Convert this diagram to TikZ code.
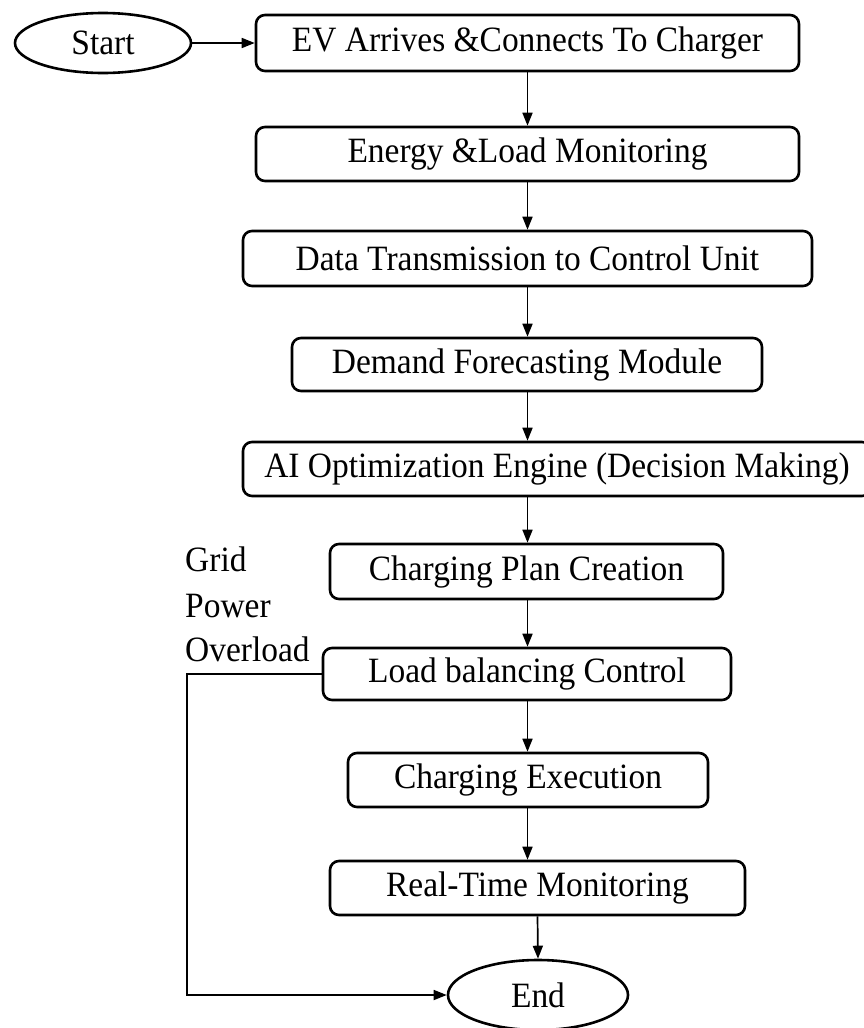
\documentclass[tikz,border=0pt]{standalone}
\usepackage{fontspec}
\setmainfont{Liberation Serif}[FakeStretch=0.94]
\usetikzlibrary{shapes.geometric,arrows.meta}
\begin{document}
\begin{tikzpicture}[x=1pt,y=-1pt,
  txt/.style={font=\fontsize{35.6}{42}\selectfont},
  box/.style={txt, draw, line width=2.6pt, rounded corners=9pt, inner sep=0pt},
  oval/.style={txt, draw, ellipse, line width=2.6pt, inner sep=0pt},
  arr/.style={line width=1.7pt, -{Triangle[length=13pt,width=10pt]}},
  lbl/.style={txt, inner sep=0pt, anchor=base west}]
\useasboundingbox (0,0) rectangle (863,1028);
\fill[white] (0,0) rectangle (863,1028);

\node[oval, minimum width=176pt, minimum height=60pt] (start) at (103,43) {Start};
\node[box, minimum width=543pt, minimum height=56pt] (b1) at (527.5,43) {EV Arrives \&Connects To Charger};
\node[box, minimum width=543pt, minimum height=54pt] (b2) at (527.5,154) {Energy \&Load Monitoring};
\node[box, minimum width=569pt, minimum height=55pt] (b3) at (527.5,258.5) {Data Transmission to Control Unit};
\node[box, minimum width=470pt, minimum height=53pt] (b4) at (527,364.5) {Demand Forecasting Module};
\node[box, minimum width=628pt, minimum height=54pt] (b5) at (557,469) {AI Optimization Engine (Decision Making)};
\node[box, minimum width=393pt, minimum height=55pt] (b6) at (526.5,571.5) {Charging Plan Creation};
\node[box, minimum width=408pt, minimum height=52pt] (b7) at (527,674) {Load balancing Control};
\node[box, minimum width=360pt, minimum height=54pt] (b8) at (528,780) {Charging Execution};
\node[box, minimum width=415pt, minimum height=54pt] (b9) at (537.5,888) {Real-Time Monitoring};
\node[oval, minimum width=180pt, minimum height=70pt] (end) at (538,995) {End};

\node[lbl] (g1) at (185,571) {Grid};
\node[lbl] (g2) at (185,617) {Power};
\node[lbl] (g3) at (185,661) {Overload};

\coordinate (ax) at (527.5,0);
\coordinate (lx) at (187,0);

\draw[arr] (start.east) -- (b1.west);
\draw[arr] (b1.south -| ax) -- (b2.north -| ax);
\draw[arr] (b2.south -| ax) -- (b3.north -| ax);
\draw[arr] (b3.south -| ax) -- (b4.north -| ax);
\draw[arr] (b4.south -| ax) -- (b5.north -| ax);
\draw[arr] (b5.south -| ax) -- (b6.north -| ax);
\draw[arr] (b6.south -| ax) -- (b7.north -| ax);
\draw[arr] (b7.south -| ax) -- (b8.north -| ax);
\draw[arr] (b8.south -| ax) -- (b9.north -| ax);
\draw[arr] (b9.south) -- (end.north);
\draw[arr] (b7.west) -- (b7.west -| lx) |- (end.west);
\end{tikzpicture}
\end{document}
